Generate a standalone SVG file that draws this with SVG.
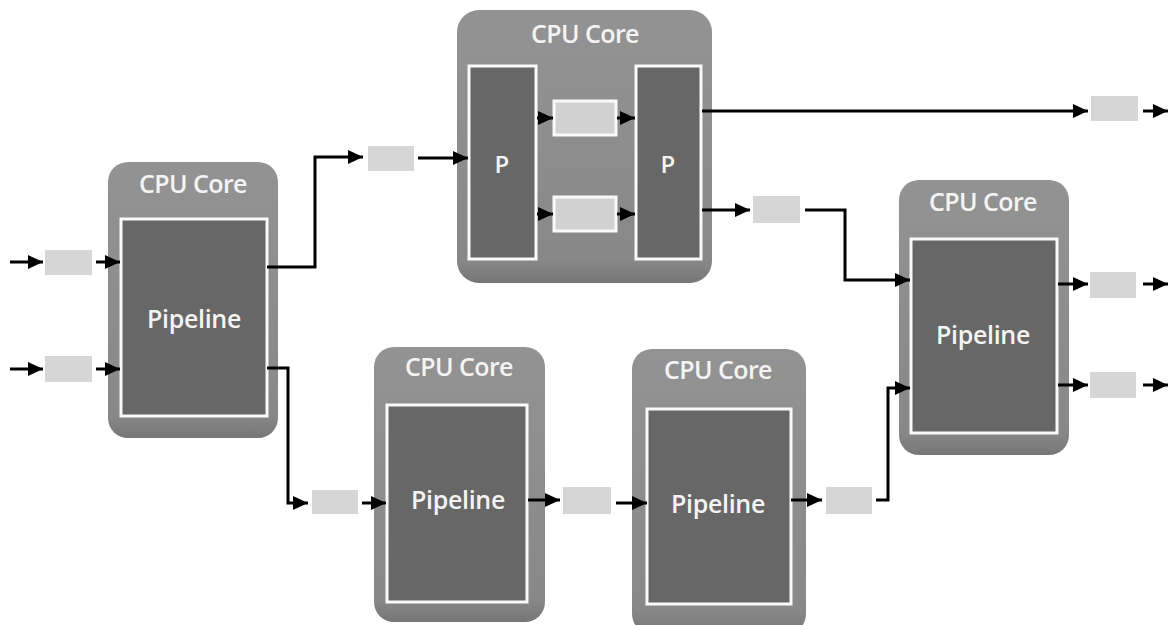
<svg xmlns="http://www.w3.org/2000/svg" width="1172" height="625" viewBox="0 0 1172 625">
<defs>
<linearGradient id="coreGrad" x1="0" y1="0" x2="0" y2="1">
<stop offset="0" stop-color="#939393"/>
<stop offset="0.92" stop-color="#888888"/>
<stop offset="1" stop-color="#767676"/>
</linearGradient>
<marker id="ah" markerUnits="userSpaceOnUse" markerWidth="15" markerHeight="14" refX="15" refY="7" orient="auto">
<path d="M0,0 L15,7 L0,14 z" fill="#000"/>
</marker>
<style>
.core{fill:url(#coreGrad);}
.pipe{fill:#676767;stroke:#fafafa;stroke-width:3;}
.buf{fill:#d6d6d6;}
.ibuf{fill:#d2d2d2;stroke:#fafafa;stroke-width:3;}
.title{font-family:"Open Sans","Noto Sans",sans-serif;font-size:25px;font-weight:600;fill:#f4f4f4;text-anchor:middle;letter-spacing:-0.6px;}
.lbl{font-family:"Open Sans","Noto Sans",sans-serif;font-size:25px;font-weight:600;fill:#f4f4f4;text-anchor:middle;letter-spacing:-0.3px;}
.pl{font-family:"Open Sans","Noto Sans",sans-serif;font-size:24px;font-weight:600;fill:#f4f4f4;text-anchor:middle;}
.c{fill:none;stroke:#000;stroke-width:3;marker-end:url(#ah);}
</style>
</defs>
<rect width="1172" height="625" fill="#ffffff"/>

<g id="core1">
<rect class="core" x="108" y="162" width="170" height="276" rx="20"/>
<text class="title" x="193" y="193">CPU Core</text>
<rect class="pipe" x="121" y="219" width="146" height="197"/>
<text class="lbl" x="194" y="328">Pipeline</text>
</g>

<g id="core2">
<rect class="core" x="457" y="10" width="255" height="273" rx="22"/>
<text class="title" x="585" y="43">CPU Core</text>
<rect class="pipe" x="469" y="66" width="67" height="193"/>
<text class="pl" x="502" y="173">P</text>
<rect class="pipe" x="636" y="66" width="65" height="193"/>
<text class="pl" x="668" y="173">P</text>
<rect class="ibuf" x="554" y="101" width="62" height="34"/>
<rect class="ibuf" x="554" y="197" width="62" height="34"/>
</g>

<g id="core3">
<rect class="core" x="374" y="347" width="171" height="275" rx="20"/>
<text class="title" x="459" y="376">CPU Core</text>
<rect class="pipe" x="387" y="405" width="140" height="197"/>
<text class="lbl" x="458" y="509">Pipeline</text>
</g>

<g id="core4">
<rect class="core" x="632" y="349" width="174" height="285" rx="20"/>
<text class="title" x="718" y="379">CPU Core</text>
<rect class="pipe" x="647" y="409" width="144" height="195"/>
<text class="lbl" x="718" y="513">Pipeline</text>
</g>

<g id="core5">
<rect class="core" x="899" y="180" width="170" height="275" rx="20"/>
<text class="title" x="983" y="211">CPU Core</text>
<rect class="pipe" x="911" y="239" width="146" height="194"/>
<text class="lbl" x="983" y="344">Pipeline</text>
</g>

<g id="buffers">
<rect class="buf" x="45" y="250" width="47" height="25"/>
<rect class="buf" x="45" y="356" width="47" height="26"/>
<rect class="buf" x="368" y="146" width="46" height="25"/>
<rect class="buf" x="312" y="490" width="46" height="24"/>
<rect class="buf" x="563" y="487" width="48" height="27"/>
<rect class="buf" x="826" y="487" width="46" height="27"/>
<rect class="buf" x="753" y="196" width="47" height="27"/>
<rect class="buf" x="1091" y="96" width="47" height="25"/>
<rect class="buf" x="1090" y="272" width="46" height="26"/>
<rect class="buf" x="1090" y="372" width="46" height="26"/>
</g>

<g id="connectors">
<path class="c" d="M10,262 H43"/>
<path class="c" d="M96,262 H120"/>
<path class="c" d="M10,369 H43"/>
<path class="c" d="M96,369 H120"/>
<path class="c" d="M267,267 H315 V157 H363"/>
<path class="c" d="M418,158 H468"/>
<path class="c" d="M267,368 H288 V503 H308"/>
<path class="c" d="M362,503 H386"/>
<path class="c" d="M528,500 H560"/>
<path class="c" d="M616,503 H647"/>
<path class="c" d="M791,500 H822"/>
<path class="c" d="M876,500 H888 V388 H910"/>
<path class="c" d="M537,118 H553"/>
<path class="c" d="M617,118 H635"/>
<path class="c" d="M537,214 H553"/>
<path class="c" d="M617,214 H635"/>
<path class="c" d="M702,111 H1088"/>
<path class="c" d="M1143,111 H1168"/>
<path class="c" d="M702,210 H750"/>
<path class="c" d="M805,210 H845 V280 H910"/>
<path class="c" d="M1058,284 H1088"/>
<path class="c" d="M1143,284 H1168"/>
<path class="c" d="M1058,385 H1088"/>
<path class="c" d="M1143,385 H1168"/>
</g>
</svg>
